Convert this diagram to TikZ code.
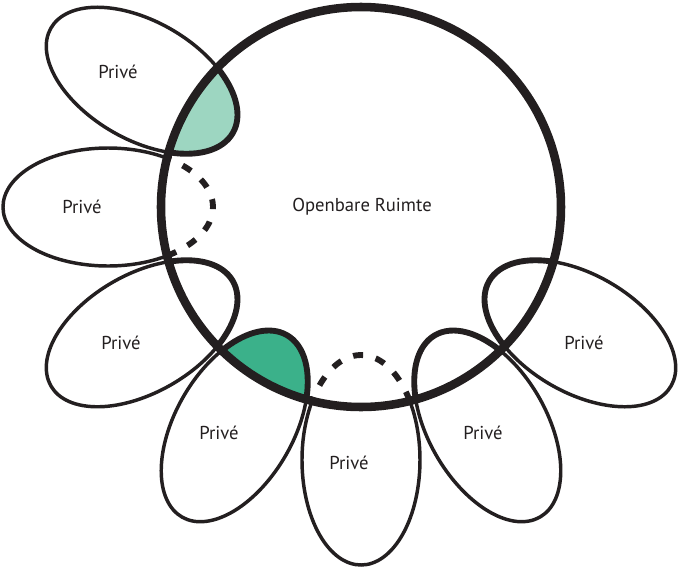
\documentclass[tikz,border=0pt]{standalone}
\usepackage{fontspec}
\setmainfont{PT Sans}
\definecolor{ink}{HTML}{231F20}
\definecolor{lightgreen}{HTML}{9DD6C1}
\definecolor{darkgreen}{HTML}{3BB18A}

\begin{document}
\begin{tikzpicture}[x=0.75pt,y=0.75pt,
  turn/.style={rotate=#1,shift={(253,0)}},
  petal/.style={draw=ink,line width=2.6pt},
  petalin/.style={draw=ink,line width=4.4pt},
  petalgap/.style={draw=ink,line width=4.4pt,dash pattern=on 7.5pt off 9.75pt},
  ring/.style={draw=ink,line width=6.4pt},
  privtext/.style={text=ink,font=\fontsize{14}{16}\selectfont}]
\useasboundingbox (-361,-362) rectangle (318,207);
\draw[petal,turn=150] (124.2:105 and 59) arc[start angle=124.2,end angle=-124.2,x radius=105,y radius=59];
\draw[petal,turn=180] (124.2:105 and 59) arc[start angle=124.2,end angle=-124.2,x radius=105,y radius=59];
\draw[petal,turn=210] (124.2:105 and 59) arc[start angle=124.2,end angle=-124.2,x radius=105,y radius=59];
\draw[petal,turn=240] (124.2:105 and 59) arc[start angle=124.2,end angle=-124.2,x radius=105,y radius=59];
\draw[petal,turn=270] (124.2:105 and 59) arc[start angle=124.2,end angle=-124.2,x radius=105,y radius=59];
\draw[petal,turn=300] (124.2:105 and 59) arc[start angle=124.2,end angle=-124.2,x radius=105,y radius=59];
\draw[petal,turn=330] (124.2:105 and 59) arc[start angle=124.2,end angle=-124.2,x radius=105,y radius=59];
\draw[petalin,fill=lightgreen,turn=150] (124.2:105 and 59) arc[start angle=124.2,end angle=235.8,x radius=105,y radius=59] arc[start angle=-14.12,end angle=14.12,radius=200] -- cycle;
\draw[petalgap,turn=180] (124.2:105 and 59) arc[start angle=124.2,end angle=235.8,x radius=105,y radius=59];
\draw[petalin,turn=210] (124.2:105 and 59) arc[start angle=124.2,end angle=235.8,x radius=105,y radius=59];
\draw[petalin,fill=darkgreen,turn=240] (124.2:105 and 59) arc[start angle=124.2,end angle=235.8,x radius=105,y radius=59] arc[start angle=-14.12,end angle=14.12,radius=200] -- cycle;
\draw[petalgap,turn=270] (124.2:105 and 59) arc[start angle=124.2,end angle=235.8,x radius=105,y radius=59];
\draw[petalin,turn=300] (124.2:105 and 59) arc[start angle=124.2,end angle=235.8,x radius=105,y radius=59];
\draw[petalin,turn=330] (124.2:105 and 59) arc[start angle=124.2,end angle=235.8,x radius=105,y radius=59];
\draw[ring] (0,0) circle[radius=200];
\node[privtext] (open) at (1,0) {Openbare Ruimte};
\node[privtext] (priv150) at (-243,135) {Privé};
\node[privtext] (priv180) at (-279,0) {Privé};
\node[privtext] (priv210) at (-240,-136) {Privé};
\node[privtext] (priv240) at (-142,-226) {Privé};
\node[privtext] (priv270) at (-12,-256) {Privé};
\node[privtext] (priv300) at (122,-226) {Privé};
\node[privtext] (priv330) at (223,-136) {Privé};
\end{tikzpicture}
\end{document}
